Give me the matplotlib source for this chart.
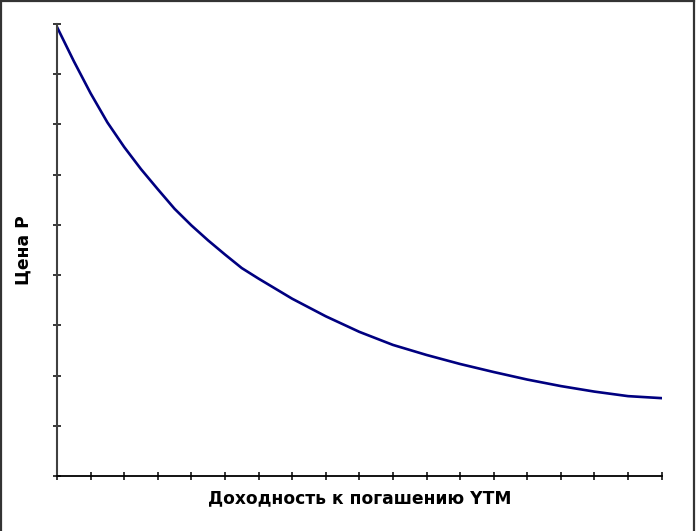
import matplotlib.pyplot as plt
from matplotlib.lines import Line2D

# доходность (в делениях оси) и цена облигации
ytm = [0, 0.5, 1, 1.5, 2, 2.5, 3, 3.5, 4, 4.5, 5, 5.5, 6, 7, 8, 9,
       10, 11, 12, 13, 14, 15, 16, 17, 18]
price = [8.94, 8.26, 7.62, 7.04, 6.55, 6.11, 5.71, 5.32, 4.99, 4.69, 4.41, 4.14,
         3.93, 3.53, 3.18, 2.87, 2.61, 2.41, 2.23, 2.07, 1.92, 1.79, 1.68, 1.59, 1.55]

x_ticks = list(range(19))
y_ticks = list(range(10))

plt.rcParams['font.family'] = ['DejaVu Sans']

fig = plt.figure(figsize=(6.97, 5.31), dpi=100)
ax = fig.add_axes([0.0818, 0.1036, 0.8675, 0.8512])

ax.plot(ytm, price, color='#000080', linewidth=1.9)

ax.set_xlim(0, 18)
ax.set_ylim(0, 9)
ax.set_xticks(x_ticks)
ax.set_yticks(y_ticks)
ax.set_xticklabels([])
ax.set_yticklabels([])
ax.tick_params(direction='inout', length=6, width=1.1, colors='black')

for side in ['top', 'right']:
    ax.spines[side].set_visible(False)
ax.spines['left'].set_color('#404040')
ax.spines['left'].set_linewidth(1.5)
ax.spines['bottom'].set_color('black')
ax.spines['bottom'].set_linewidth(1.3)

ax.set_xlabel('Доходность к погашению YTM', fontsize=12.3, fontweight='bold', labelpad=3)
ax.set_ylabel('Цена P', fontsize=12.3, fontweight='bold', labelpad=11)

# рамка вокруг рисунка
for xs, ys in [([0.002, 0.002], [0, 1]), ([0, 0.996], [0.998, 0.998]), ([0.996, 0.996], [0, 1])]:
    fig.add_artist(Line2D(xs, ys, transform=fig.transFigure, color='#333333', linewidth=1.6))

fig.savefig('out.png', dpi=100)
